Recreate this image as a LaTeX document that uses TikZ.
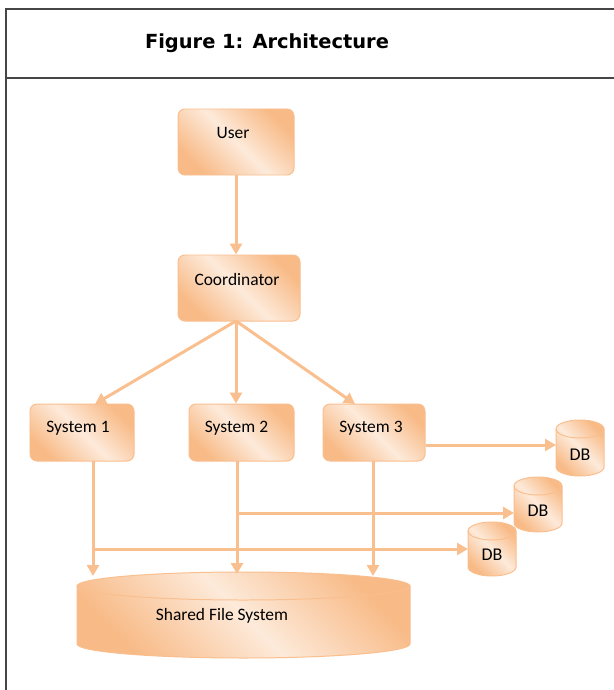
\documentclass[tikz,border=0pt]{standalone}
\usepackage{fontspec}
\setmainfont{Carlito}
\newfontfamily\titlefont{DejaVu Sans}
\usetikzlibrary{arrows.meta}

\definecolor{peachdark}{RGB}{248,186,134}
\definecolor{peachlight}{RGB}{253,234,218}
\definecolor{peachline}{RGB}{250,191,143}
\definecolor{framegray}{RGB}{70,70,70}

% diagonal band: dark corners, light streak through the middle
\pgfdeclarehorizontalshading{peach}{100bp}{%
  color(0bp)=(peachdark); color(25bp)=(peachdark);
  color(50bp)=(peachlight);
  color(75bp)=(peachdark); color(100bp)=(peachdark)}

\tikzset{
  box/.style={draw=peachline, line width=1pt, rounded corners=7bp,
    shading=peach, shading angle=45, inner sep=0pt},
  boxtext/.style={font=\fontsize{17.5}{20}\selectfont, text=black},
  dbtext/.style={font=\fontsize{18}{21}\selectfont, text=black},
  link/.style={draw=peachline, line width=3bp,
    -{Triangle[length=11bp,width=12bp]}},
  plainlink/.style={draw=peachline, line width=3bp},
  framerule/.style={draw=framegray, line width=1.5bp},
  ghost/.style={inner sep=0pt, outer sep=0pt},
}

% cylinder: #1 name, #2 left, #3 top, #4 right, #5 bottom, #6 cap half-height
\newcommand{\drumshape}[6]{%
  \node[ghost, minimum width={(#4-#2)*1bp}, minimum height={(#5-#3)*1bp}]
    (#1) at ({(#2+#4)/2},{(#3+#5)/2}) {};
  \path[shading=peach, shading angle=45]
    (#2,#3+#6) -- (#2,#5-#6)
    arc[start angle=180, end angle=0, x radius={(#4-#2)/2}, y radius=#6]
    -- (#4,#3+#6)
    arc[start angle=0, end angle=-180, x radius={(#4-#2)/2}, y radius=#6]
    -- cycle;
  \draw[peachline, line width=1pt]
    (#2,#3+#6) -- (#2,#5-#6)
    arc[start angle=180, end angle=0, x radius={(#4-#2)/2}, y radius=#6]
    -- (#4,#3+#6);
  \draw[peachline, line width=1pt]
    ({(#2+#4)/2},#3+#6) ellipse[x radius={(#4-#2)/2}, y radius=#6];
}

\begin{document}
\begin{tikzpicture}[x=1bp, y=-1bp]
\useasboundingbox (0,0) rectangle (614,690);

% frame and title bar
\draw[framerule] (614,9) -- (6,9) -- (6,690);
\draw[framerule] (6,78) -- (614,78);
\node[font=\titlefont\bfseries\fontsize{19.5}{22}\selectfont] (title) at (267,43)
  {Figure 1: Architecture};

% boxes
\node[box, minimum width=116bp, minimum height=66bp,
  label={[boxtext, yshift=9bp, xshift=-3bp]center:User}] (user) at (236,142) {};
\node[box, minimum width=122bp, minimum height=66bp,
  label={[boxtext, yshift=8bp, xshift=-2bp]center:Coordinator}] (coord) at (239,288) {};
\node[box, minimum width=104bp, minimum height=57bp,
  label={[boxtext, yshift=4bp, xshift=-4bp]center:System 1}] (s1) at (82,432.5) {};
\node[box, minimum width=105bp, minimum height=57bp,
  label={[boxtext, yshift=4bp, xshift=-5bp]center:System 2}] (s2) at (241.5,432.5) {};
\node[box, minimum width=102bp, minimum height=57bp,
  label={[boxtext, yshift=4bp, xshift=-3bp]center:System 3}] (s3) at (374,432.5) {};

% storage
\drumshape{db1}{556}{420}{604}{476}{9}
\node[dbtext] (db1t) at (580,455) {DB};
\drumshape{db2}{514}{477}{562}{532}{9}
\node[dbtext] (db2t) at (538,511) {DB};
\drumshape{db3}{468}{522}{516}{576}{9}
\node[dbtext] (db3t) at (492,555) {DB};
\drumshape{sfs}{77}{572}{410}{658}{14}
\node[boxtext] (sfst) at (222,616) {Shared File System};

% junction points
\coordinate (cb) at (236,321);
\coordinate (j1) at (93,549);
\coordinate (j2) at (237,513);

% connectors
\draw[link] (user.south -| cb) -- (cb |- coord.north);
\draw[link] (cb) -- (95,404);
\draw[link] (cb) -- (cb |- s2.north);
\draw[link] (cb) -- (355,404);
\draw[link] (s3.east |- 0,445) -- (db1.west |- 0,445);
\draw[plainlink] (93,461) -- (j1);
\draw[link] (j1) -- (93,576);
\draw[link] (j1) -- (db3.west |- j1);
\draw[plainlink] (237,461) -- (j2);
\draw[link] (j2) -- (237,574);
\draw[link] (j2) -- (db2.west |- j2);
\draw[link] (373,461) -- (373,576);
\end{tikzpicture}
\end{document}
